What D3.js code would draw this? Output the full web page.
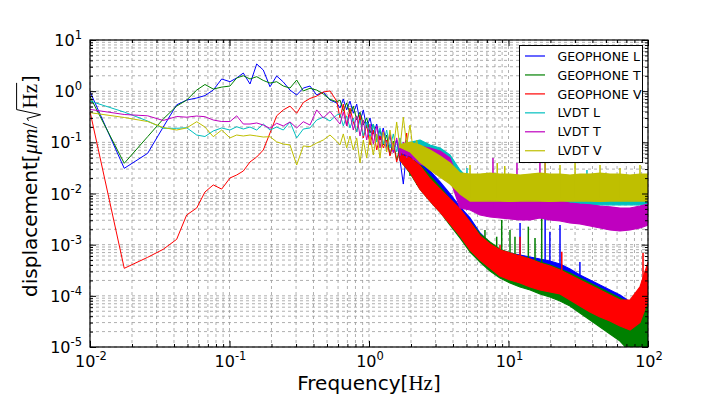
<!DOCTYPE html>
<html><head><meta charset="utf-8">
<script src="https://cdn.jsdelivr.net/npm/d3@7"></script>
<style>body{margin:0;background:#fff}svg{display:block}</style>
</head><body><svg id="c" width="720" height="396"></svg>
<script>
// ---------- data (Hz, um/sqrt(Hz)) ----------
const seriesNames = ["GEOPHONE L", "GEOPHONE T", "GEOPHONE V", "LVDT L", "LVDT T", "LVDT V"];
const seriesColors = ["#0000ff", "#008000", "#ff0000", "#00bfbf", "#bf00bf", "#bfbf00"];

// line part (0.01 - 2.3 Hz), common frequency grid
const lowF = [0.01, 0.0176, 0.0259, 0.0335, 0.0418, 0.0493, 0.0582, 0.0667, 0.0765, 0.0879, 0.1008, 0.1126, 0.1256, 0.1403, 0.1567, 0.1747, 0.1951, 0.2179, 0.2431, 0.2715, 0.3032, 0.3381, 0.3776, 0.4218, 0.4704, 0.5253, 0.5868,
  0.6197, 0.6543, 0.692, 0.7307, 0.7718, 0.8161, 0.8618, 0.9101, 0.9627, 1.017, 1.074, 1.136, 1.199, 1.266, 1.339, 1.414, 1.494, 1.579, 1.668, 1.762, 1.863, 1.968, 2.078, 2.198, 2.321];
const geoL_low = [0.98, 0.031, 0.061, 0.199, 0.54, 0.67, 0.735, 0.82, 1.05, 1.73, 1.53, 1.81, 2.26, 1.38, 3.40, 2.59, 1.22, 1.98, 1.51, 1.05, 0.84, 1.15, 1.26, 0.84, 0.96, 0.67, 0.59,
  0.47, 0.703, 0.43, 0.64, 0.37, 0.56, 0.25, 0.43, 0.191, 0.30, 0.146, 0.228, 0.111, 0.191, 0.0811, 0.139, 0.0648, 0.111, 0.0452, 0.0153, 0.0709, 0.0288, 0.0566, 0.021, 0.0395];
const geoT_low = [0.78, 0.0389, 0.129, 0.286, 0.51, 0.67, 1.05, 1.35, 1.10, 1.2, 1.26, 1.81, 2.0, 1.73, 1.92, 1.62, 1.44, 1.53, 1.26, 1.15, 1.65, 1.01, 1.14, 1.05, 0.88, 0.69, 0.62,
  0.67, 0.41, 0.59, 0.36, 0.51, 0.273, 0.39, 0.218, 0.30, 0.152, 0.228, 0.111, 0.174, 0.0887, 0.139, 0.0566, 0.106, 0.0452, 0.0775, 0.0361, 0.0566, 0.022, 0.0452, 0.0147, 0.0311];
const geoV_low = [0.40, 0.000345, 0.000566, 0.000812, 0.00127, 0.0038, 0.0052, 0.0107, 0.0147, 0.0122, 0.0201, 0.023, 0.0275, 0.0413, 0.0517, 0.0709, 0.152, 0.33, 0.43, 0.51, 0.37, 0.60, 0.72, 0.80, 0.963, 1.01, 0.64,
  0.30, 0.56, 0.209, 0.47, 0.25, 0.159, 0.34, 0.122, 0.218, 0.0887, 0.174, 0.0709, 0.133, 0.0775, 0.111, 0.0541, 0.097, 0.0413, 0.0709, 0.0494, 0.152, 0.0311, 0.0494, 0.016, 0.0252];
const lvdtL_low = [0.64, 0.39, 0.261, 0.188, 0.188, 0.193, 0.139, 0.130, 0.167, 0.191, 0.174, 0.202, 0.182, 0.199, 0.174, 0.228, 0.174, 0.199, 0.174, 0.25, 0.122, 0.182, 0.191, 0.273, 0.31, 0.261, 0.34,
  0.36, 0.209, 0.33, 0.191, 0.30, 0.159, 0.273, 0.133, 0.25, 0.122, 0.228, 0.101, 0.191, 0.0928, 0.174, 0.0775, 0.146, 0.0648, 0.122, 0.0592, 0.111, 0.0541, 0.0928, 0.0452, 0.0848];
const lvdtT_low = [0.44, 0.35, 0.33, 0.267, 0.32, 0.31, 0.327, 0.317, 0.273, 0.255, 0.255, 0.33, 0.228, 0.228, 0.239, 0.218, 0.188, 0.236, 0.209, 0.25, 0.191, 0.253, 0.218, 0.43, 0.30, 0.40, 0.273,
  0.228, 0.39, 0.209, 0.36, 0.174, 0.33, 0.133, 0.273, 0.111, 0.228, 0.0928, 0.209, 0.0775, 0.174, 0.0709, 0.146, 0.0619, 0.122, 0.0541, 0.101, 0.0494, 0.0848, 0.0452, 0.0775, 0.0413];
const lvdtV_low = [0.38, 0.306, 0.255, 0.195, 0.174, 0.191, 0.253, 0.199, 0.129, 0.174, 0.122, 0.139, 0.133, 0.139, 0.133, 0.127, 0.129, 0.102, 0.0928, 0.0887, 0.036, 0.085, 0.0823, 0.097, 0.111, 0.139, 0.105,
  0.0887, 0.146, 0.0775, 0.133, 0.0709, 0.122, 0.0395, 0.111, 0.0494, 0.133, 0.0566, 0.146, 0.0494, 0.159, 0.0648, 0.174, 0.0709, 0.25, 0.0775, 0.31, 0.0887, 0.218, 0.0648, 0.111, 0.0494];

// dense noisy core (1.7 - 100 Hz): upper / lower envelope on a common grid
const bandF = [1.67, 1.97, 2.32, 2.74, 3.23, 3.81, 4.49, 5.3, 6.25, 7.37, 8.69, 10.25, 12.1, 14.3, 16.8, 19.8, 23.4, 27.6, 32.5, 38.4, 45.3, 53.4, 63, 74.3, 87.6, 100];
const geoL_hi = [0.062, 0.06, 0.0432, 0.0275, 0.0168, 0.0098, 0.0055, 0.00332, 0.00169, 0.00108, 0.000787, 0.000688, 0.000628, 0.000574, 0.000525, 0.00048, 0.000419, 0.000335, 0.000256, 0.000204, 0.000163, 0.00013, 0.000104, 0.0000758, 0.0000422, 0.0000829];
const geoL_lo = [0.05, 0.03, 0.016, 0.0089, 0.0052, 0.00304, 0.00177, 0.000942, 0.000601, 0.000383, 0.000267, 0.000223, 0.000186, 0.000163, 0.000142, 0.00013, 0.000114, 0.0000907, 0.0000724, 0.0000578, 0.0000462, 0.0000369, 0.0000308, 0.0000235, 0.0000215, 0.0000269];
const geoT_hi = [0.055, 0.05, 0.0361, 0.022, 0.0134, 0.0078, 0.00476, 0.00277, 0.00162, 0.00113, 0.000812, 0.000688, 0.000601, 0.000525, 0.000459, 0.0004, 0.000335, 0.000279, 0.000223, 0.000178, 0.000142, 0.000114, 0.0000907, 0.0000724, 0.0000578, 0.0000829];
const geoT_lo = [0.045, 0.025, 0.0122, 0.0071, 0.00435, 0.00242, 0.00135, 0.000719, 0.000459, 0.000306, 0.000223, 0.000178, 0.000149, 0.00013, 0.000109, 0.0000949, 0.0000793, 0.0000633, 0.0000462, 0.0000337, 0.0000246, 0.0000179, 0.0000131, 0.000008, 0.000008, 0.000008];
const geoV_hi = [0.055, 0.05, 0.0345, 0.0192, 0.0122, 0.0078, 0.005, 0.00277, 0.00148, 0.00103, 0.000787, 0.000688, 0.000601, 0.000525, 0.000438, 0.000383, 0.00032, 0.000256, 0.000204, 0.000163, 0.00013, 0.000104, 0.0000829, 0.0000829, 0.00015, 0.00045];
const geoV_lo = [0.045, 0.026, 0.0122, 0.0071, 0.00435, 0.00254, 0.00148, 0.000787, 0.000502, 0.00035, 0.000244, 0.000204, 0.000178, 0.000149, 0.00013, 0.000119, 0.000109, 0.0000829, 0.0000633, 0.0000483, 0.0000386, 0.0000322, 0.0000257, 0.0000215, 0.00003, 0.00008];
const lvdtL_hi = [0.08, 0.1, 0.111, 0.0887, 0.0775, 0.0566, 0.0288, 0.0176, 0.016, 0.016, 0.017, 0.016, 0.016, 0.015, 0.016, 0.016, 0.017, 0.016, 0.016, 0.015, 0.016, 0.016, 0.016, 0.016, 0.016, 0.016];
const lvdtL_lo = [0.07, 0.06, 0.0413, 0.0361, 0.0288, 0.021, 0.0089, 0.0071, 0.006, 0.006, 0.0062, 0.006, 0.006, 0.0058, 0.006, 0.006, 0.0062, 0.006, 0.006, 0.0058, 0.006, 0.006, 0.006, 0.006, 0.006, 0.006];
const lvdtT_hi = [0.075, 0.09, 0.0848, 0.0775, 0.0678, 0.0494, 0.0153, 0.0122, 0.0102, 0.0094, 0.0089, 0.0085, 0.0085, 0.0085, 0.0082, 0.0074, 0.0071, 0.0065, 0.0062, 0.006, 0.0057, 0.0055, 0.0052, 0.0052, 0.0057, 0.0062];
const lvdtT_lo = [0.065, 0.055, 0.0377, 0.033, 0.0275, 0.0192, 0.0052, 0.00476, 0.0038, 0.00347, 0.00332, 0.00318, 0.00304, 0.00304, 0.00332, 0.00304, 0.0029, 0.00265, 0.00254, 0.00232, 0.00212, 0.00194, 0.00185, 0.00194, 0.00212, 0.00242];
const lvdtV_hi = [0.09, 0.1, 0.0887, 0.0709, 0.054, 0.0395, 0.0252, 0.024, 0.024, 0.025, 0.024, 0.024, 0.023, 0.024, 0.025, 0.024, 0.024, 0.023, 0.024, 0.024, 0.025, 0.024, 0.024, 0.023, 0.024, 0.024];
const lvdtV_lo = [0.08, 0.065, 0.0413, 0.0288, 0.021, 0.0153, 0.0098, 0.0071, 0.0071, 0.0072, 0.0071, 0.007, 0.0071, 0.0072, 0.0071, 0.007, 0.0071, 0.0071, 0.0072, 0.0071, 0.007, 0.0071, 0.0071, 0.0072, 0.0071, 0.0071];

// isolated spectral lines: frequency, base, tip
const geoL_spF = [12.1, 18.3, 19.8, 23.4, 32.5];
const geoL_spBase = [0.0003, 0.0003, 0.0003, 0.0003, 0.0001];
const geoL_spTip = [0.00265, 0.0066, 0.00179, 0.00242, 0.000459];
const geoT_spF = [6.78, 8.23, 8.94, 10.25, 11.13, 13.87, 15.49, 17.3];
const geoT_spBase = [0.0005, 0.0003, 0.0003, 0.0003, 0.0003, 0.0002, 0.0002, 0.0002];
const geoT_spTip = [0.00194, 0.00143, 0.00304, 0.00194, 0.00143, 0.00225, 0.00135, 0.00353];
const geoV_spF = [8.69, 12.1, 24.1, 92.1];
const geoV_spBase = [0.0003, 0.0003, 0.00015, 0.00005];
const geoV_spTip = [0.000986, 0.00143, 0.000729, 0.00069];
const lvdtL_spF = [5.04, 36.5, 70.7];
const lvdtL_spBase = [0.01, 0.01, 0.01];
const lvdtL_spTip = [0.0315, 0.0288, 0.022];
const lvdtT_spF = [7.74, 11.5, 16.8, 18.3];
const lvdtT_spBase = [0.005, 0.005, 0.005, 0.005];
const lvdtT_spTip = [0.0494, 0.0395, 0.0517, 0.0452];
const lvdtV_spF = [5.3, 8.3, 9.4, 18.3, 23.4, 30, 45.3, 63, 87.6];
const lvdtV_spBase = [0.0082, 0.0082, 0.0082, 0.0082, 0.0082, 0.0082, 0.0082, 0.0082, 0.0082];
const lvdtV_spTip = [0.0361, 0.0395, 0.0345, 0.0413, 0.0361, 0.0413, 0.0361, 0.0315, 0.0361];

const xTickExps = [-2, -1, 0, 1, 2];
const yTickExps = [1, 0, -1, -2, -3, -4, -5];

// ---------- build ----------
const series = [
  {low: geoL_low, hi: geoL_hi, lo: geoL_lo, spF: geoL_spF, spB: geoL_spBase, spT: geoL_spTip},
  {low: geoT_low, hi: geoT_hi, lo: geoT_lo, spF: geoT_spF, spB: geoT_spBase, spT: geoT_spTip},
  {low: geoV_low, hi: geoV_hi, lo: geoV_lo, spF: geoV_spF, spB: geoV_spBase, spT: geoV_spTip},
  {low: lvdtL_low, hi: lvdtL_hi, lo: lvdtL_lo, spF: lvdtL_spF, spB: lvdtL_spBase, spT: lvdtL_spTip},
  {low: lvdtT_low, hi: lvdtT_hi, lo: lvdtT_lo, spF: lvdtT_spF, spB: lvdtT_spBase, spT: lvdtT_spTip},
  {low: lvdtV_low, hi: lvdtV_hi, lo: lvdtV_lo, spF: lvdtV_spF, spB: lvdtV_spBase, spT: lvdtV_spTip}
].map((s, i) => Object.assign(s, {name: seriesNames[i], color: seriesColors[i]}));

const L = 90, R = 648, T = 40, B = 347;
const x = d3.scaleLog().domain([0.01, 100]).range([L, R]);
const y = d3.scaleLog().domain([1e-5, 10]).range([B, T]);
const svg = d3.select("#c");
const SANS = "'DejaVu Sans', sans-serif";
const SERIF = "'Liberation Serif', 'DejaVu Serif', serif";

function minorVals(d0, d1) {
  const out = [];
  for (let e = d0; e < d1; e++) for (let k = 2; k <= 9; k++) out.push(k * Math.pow(10, e));
  return out;
}
const xMaj = xTickExps.map(e => Math.pow(10, e));
const yMaj = yTickExps.map(e => Math.pow(10, e));
const xMin = minorVals(-2, 2), yMin = minorVals(-5, 1);

// grid
const grid = svg.append("g").attr("stroke", "#9a9a9a").attr("stroke-width", 0.8).attr("stroke-dasharray", "3,3");
grid.selectAll(".gx").data(xMaj.concat(xMin)).join("line")
  .attr("x1", d => x(d)).attr("x2", d => x(d)).attr("y1", T).attr("y2", B);
grid.selectAll(".gy").data(yMaj.concat(yMin)).join("line")
  .attr("y1", d => y(d)).attr("y2", d => y(d)).attr("x1", L).attr("x2", R);

// data
svg.append("clipPath").attr("id", "plot").append("rect")
  .attr("x", L).attr("y", T).attr("width", R - L).attr("height", B - T);
const dataG = svg.append("g").attr("clip-path", "url(#plot)");
const line = d3.line().x(d => x(d[0])).y(d => y(d[1]));
const area = d3.area().x(d => x(d[0])).y0(d => y(d[1])).y1(d => y(d[2]));
series.forEach(s => {
  const g = dataG.append("g");
  g.append("path").datum(lowF.map((f, i) => [f, s.low[i]]))
    .attr("d", line).attr("fill", "none").attr("stroke", s.color).attr("stroke-width", 1);
  g.append("path").datum(bandF.map((f, i) => [f, s.lo[i], s.hi[i]]))
    .attr("d", area).attr("fill", s.color).attr("stroke", s.color).attr("stroke-width", 1.2)
    .attr("stroke-linejoin", "round");
  g.selectAll(".sp").data(s.spF.map((f, i) => [f, s.spB[i], s.spT[i]])).join("line")
    .attr("x1", d => x(d[0])).attr("x2", d => x(d[0]))
    .attr("y1", d => y(d[1])).attr("y2", d => y(d[2]))
    .attr("stroke", s.color).attr("stroke-width", 1.5);
});

// ticks (inward, all four sides)
function tickGroup(axisFn, scale, vals, size, tr) {
  svg.append("g").attr("transform", tr)
    .call(axisFn(scale).tickValues(vals).tickSize(size).tickFormat(""))
    .call(g => g.select(".domain").remove())
    .selectAll("line").attr("stroke", "#000").attr("stroke-width", 1);
}
tickGroup(d3.axisBottom, x, xMaj, -6, `translate(0,${B})`);
tickGroup(d3.axisBottom, x, xMin, -3, `translate(0,${B})`);
tickGroup(d3.axisTop, x, xMaj, -6, `translate(0,${T})`);
tickGroup(d3.axisTop, x, xMin, -3, `translate(0,${T})`);
tickGroup(d3.axisLeft, y, yMaj, -6, `translate(${L},0)`);
tickGroup(d3.axisLeft, y, yMin, -3, `translate(${L},0)`);
tickGroup(d3.axisRight, y, yMaj, -6, `translate(${R},0)`);
tickGroup(d3.axisRight, y, yMin, -3, `translate(${R},0)`);

// frame
svg.append("rect").attr("x", L).attr("y", T).attr("width", R - L).attr("height", B - T)
  .attr("fill", "none").attr("stroke", "#000").attr("stroke-width", 1.2);

// tick labels
function powLabel(sel, e) {
  sel.append("tspan").text("10");
  sel.append("tspan").attr("dy", -7).attr("font-size", 11.5).text(e < 0 ? "-" + (-e) : String(e));
}
xTickExps.forEach(e => {
  svg.append("text").attr("x", x(Math.pow(10, e)) + 1).attr("y", 367)
    .attr("text-anchor", "middle").attr("font-family", SANS).attr("font-size", 16).attr("fill", "#000")
    .call(powLabel, e);
});
yTickExps.forEach(e => {
  svg.append("text").attr("x", 82).attr("y", y(Math.pow(10, e)) + 6)
    .attr("text-anchor", "end").attr("font-family", SANS).attr("font-size", 16).attr("fill", "#000")
    .call(powLabel, e);
});

// rich axis labels
function richLabel(g, parts, fs) {
  let cx = 0;
  const items = [];
  parts.forEach(p => {
    if (p.sqrt) {
      const start = cx;
      cx += fs * 0.62;
      const t = g.append("text").attr("x", cx).attr("y", 0).attr("font-family", SERIF)
        .attr("font-size", fs * 1.05).attr("fill", "#000").text(p.text);
      const w = t.node().getComputedTextLength();
      items.push({start: start, end: cx + w + 1});
      cx += w + 1;
    } else {
      const t = g.append("text").attr("x", cx).attr("y", 0)
        .attr("font-family", p.serif ? SERIF : SANS).attr("font-style", p.italic ? "italic" : null)
        .attr("font-size", p.serif ? fs * 1.05 : fs).attr("fill", "#000").text(p.text);
      const w = t.node().getComputedTextLength();
      cx += w + (p.gap || 0);
    }
  });
  items.forEach(it => {
    const s = it.start;
    g.append("path").attr("fill", "none").attr("stroke", "#000").attr("stroke-width", 1)
      .attr("d", `M${s},${-0.42 * fs}L${s + 0.12 * fs},${-0.5 * fs}L${s + 0.3 * fs},${0.18 * fs}L${s + 0.56 * fs},${-1.02 * fs}L${it.end},${-1.02 * fs}`);
  });
  g.selectAll("text,path").attr("transform", `translate(${-cx / 2},0)`);
}
const yl = svg.append("g").attr("transform", "translate(37,186) rotate(-90)");
richLabel(yl, [
  {text: "displacement["},
  {text: "μm", serif: true, italic: true},
  {text: "/", serif: true, gap: 2},
  {text: "Hz", sqrt: true},
  {text: "]"}
], 20);
const xl = svg.append("g").attr("transform", "translate(369,390)");
richLabel(xl, [
  {text: "Frequency["},
  {text: "Hz", serif: true},
  {text: "]"}
], 20);

// legend
const lg = svg.append("g");
lg.append("rect").attr("x", 519.5).attr("y", 45.5).attr("width", 123).attr("height", 117)
  .attr("fill", "#fff").attr("stroke", "#000").attr("stroke-width", 1);
series.forEach((s, i) => {
  const yy = 56 + i * 18.95;
  lg.append("line").attr("x1", 525).attr("x2", 545).attr("y1", yy).attr("y2", yy)
    .attr("stroke", s.color).attr("stroke-width", 1.2);
  lg.append("text").attr("x", 557.5).attr("y", yy + 4.6).attr("font-family", SANS)
    .attr("font-size", 12.5).attr("fill", "#000").text(s.name);
});
</script></body></html>
